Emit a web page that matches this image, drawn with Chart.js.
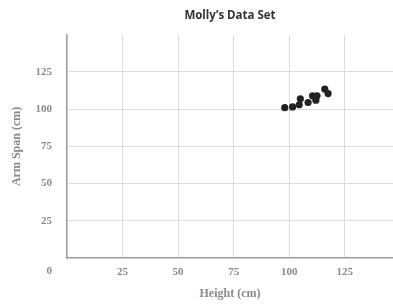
<!DOCTYPE html>
<html>
<head>
<meta charset="utf-8">
<script src="https://cdn.jsdelivr.net/npm/chart.js@4/dist/chart.umd.min.js"></script>
<style>
  html, body { margin: 0; padding: 0; background: #fff; }
  #wrap { width: 393px; height: 305px; }
</style>
</head>
<body>
<div id="wrap"><canvas id="molly_chart"></canvas></div>
<script>
// Molly's data
const heights = [98, 101.5, 104.5, 105, 108.5, 110.5, 112.5, 112, 116, 117.5];
const arm_spans = [101, 101.5, 103, 107, 104.5, 109, 109, 106, 113.5, 110.5];
const x_ticks = [0, 25, 50, 75, 100, 125];
const y_ticks = [0, 25, 50, 75, 100, 125];

const points = heights.map((h, i) => ({ x: h, y: arm_spans[i] }));

const serif_bold = { family: "'Liberation Serif', serif", weight: 'bold' };
const grey_text = '#8a8a8a';

// shared "0" at the corner, under the y labels
const originLabel = {
    id: 'originLabel',
    afterDraw(chart) {
        const xs = chart.scales.x, ys = chart.scales.y;
        const c = chart.ctx;
        c.save();
        c.font = "bold 11px 'Liberation Serif', serif";
        c.fillStyle = grey_text;
        c.textAlign = 'right';
        c.textBaseline = 'top';
        c.fillText('0', ys.right - 15, xs.top + 8);
        c.restore();
    }
};

const ctx = document.getElementById('molly_chart').getContext('2d');
new Chart(ctx, {
    type: 'scatter',
    data: {
        datasets: [{
            label: 'Molly',
            data: points,
            backgroundColor: '#222',
            borderWidth: 0,
            pointRadius: 3.6,
            pointHoverRadius: 3.6
        }]
    },
    options: {
        responsive: true,
        maintainAspectRatio: false,
        animation: false,
        layout: { padding: 0, autoPadding: false },
        plugins: {
            legend: { display: false },
            tooltip: { enabled: false },
            title: {
                display: true,
                text: 'Molly’s Data Set',
                fullSize: false,
                color: '#333',
                font: { family: "'Open Sans', sans-serif", size: 11.5, weight: 'bold' },
                padding: { top: 9, bottom: 12 }
            }
        },
        scales: {
            x: {
                type: 'linear',
                min: 0,
                max: 146.7,
                afterFit: (s) => { s.height = 47; s.paddingLeft = 0; s.paddingRight = 0; },
                afterBuildTicks: (s) => { s.ticks = x_ticks.map(v => ({ value: v })); },
                ticks: {
                    padding: 8,
                    color: grey_text,
                    font: { ...serif_bold, size: 11 },
                    maxRotation: 0,
                    callback: (v) => v === 0 ? '' : v
                },
                grid: { color: '#dcdcdc', drawTicks: false, lineWidth: 1 },
                border: { color: '#9a9a9a', width: 1.3 },
                title: {
                    display: true,
                    text: 'Height (cm)',
                    color: grey_text,
                    font: { ...serif_bold, size: 12 },
                    padding: { top: 4, bottom: 4 }
                }
            },
            y: {
                type: 'linear',
                min: 0,
                max: 150,
                afterFit: (s) => { s.width = 67; s.paddingTop = 0; s.paddingBottom = 0; },
                afterBuildTicks: (s) => { s.ticks = y_ticks.map(v => ({ value: v })); },
                ticks: {
                    padding: 15,
                    color: grey_text,
                    font: { ...serif_bold, size: 11 },
                    callback: (v) => v === 0 ? '' : v
                },
                grid: { color: '#dcdcdc', drawTicks: false, lineWidth: 1 },
                border: { color: '#9a9a9a', width: 1.3 },
                title: {
                    display: true,
                    text: 'Arm Span (cm)',
                    color: grey_text,
                    font: { ...serif_bold, size: 12 },
                    padding: { top: 10, bottom: 4 }
                }
            }
        }
    },
    plugins: [originLabel]
});
</script>
</body>
</html>
